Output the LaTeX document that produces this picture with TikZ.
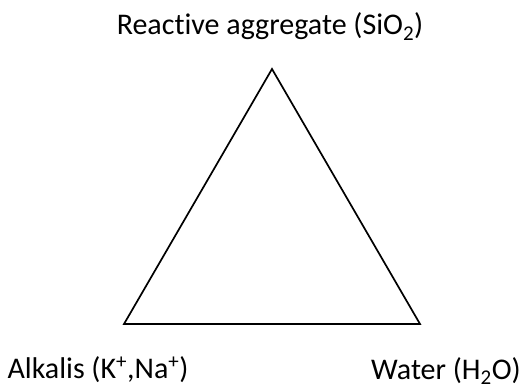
\documentclass[tikz,border=0pt]{standalone}
\usepackage{fontspec}
\setmainfont{Carlito}[Ligatures=NoCommon]
\begin{document}
\begin{tikzpicture}[x=1pt,y=-1pt,
  lbl/.style={font=\fontsize{30}{34}\selectfont, inner sep=0pt, anchor=base},
  tri/.style={draw=black, line width=1.7pt, line join=miter}]
\useasboundingbox (0,0) rectangle (521,390);
\coordinate (apex) at (272,69);
\coordinate (bl) at (124,324);
\coordinate (br) at (420,324);
\draw[tri] (apex) -- (bl) -- (br) -- cycle;
\node[lbl] (top) at (270,35) {Reactive aggregate (SiO\textsubscript{2})};
\node[lbl] (alk) at (98,378) {Alkalis (K\textsuperscript{+},Na\textsuperscript{+})};
\node[lbl] (wat) at (446,379) {Water (H\textsubscript{2}O)};
\end{tikzpicture}
\end{document}
